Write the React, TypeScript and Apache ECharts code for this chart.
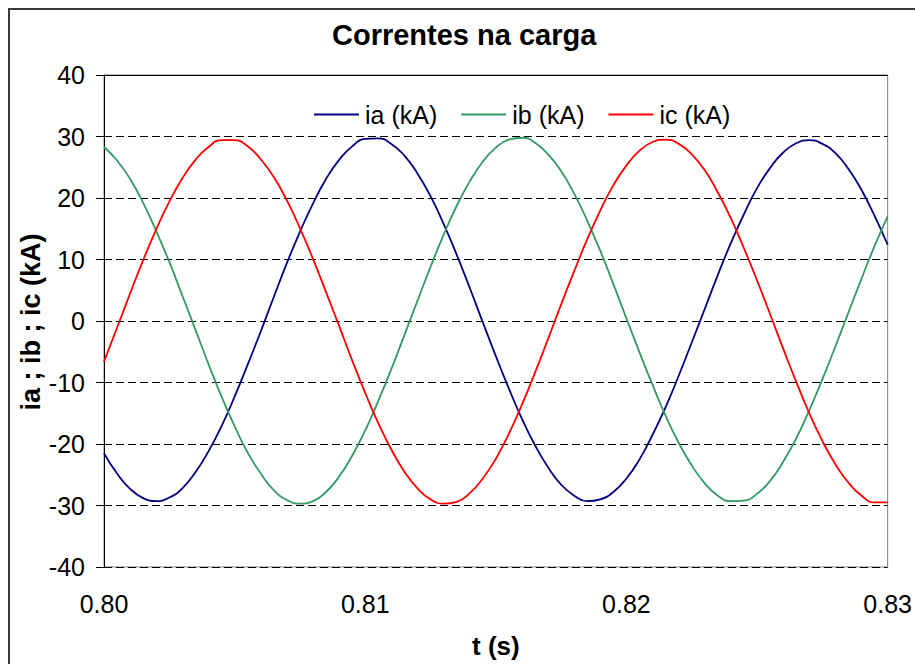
import React, { useEffect, useRef } from "react";
import * as echarts from "echarts";

const titleText = "Correntes na carga";
const xName = "t (s)";
const yName = "ia ; ib ; ic (kA)";
const seriesNames = ["ia (kA)", "ib (kA)", "ic (kA)"];
const seriesColors = ["#000080", "#339966", "#FF0000"];

// sample times (s), every 0.5 ms
const times = [
  0.8, 0.8005, 0.801, 0.8015, 0.802, 0.8025, 0.803, 0.8035, 0.804, 0.8045,
  0.805, 0.8055, 0.806, 0.8065, 0.807, 0.8075, 0.808, 0.8085, 0.809, 0.8095,
  0.81, 0.8105, 0.811, 0.8115, 0.812, 0.8125, 0.813, 0.8135, 0.814, 0.8145,
  0.815, 0.8155, 0.816, 0.8165, 0.817, 0.8175, 0.818, 0.8185, 0.819, 0.8195,
  0.82, 0.8205, 0.821, 0.8215, 0.822, 0.8225, 0.823, 0.8235, 0.824, 0.8245,
  0.825, 0.8255, 0.826, 0.8265, 0.827, 0.8275, 0.828, 0.8285, 0.829, 0.8295,
  0.83,
];

// ia (kA)
const iaValues = [
  -21.5, -24.8, -27.3, -28.8, -29.3, -28.7, -27.2, -24.6, -21.2, -17.1,
  -12.3, -7.1, -1.7, 3.9, 9.4, 14.5, 19.1, 23.1, 26.2, 28.4,
  29.6, 29.7, 28.8, 26.9, 24.0, 20.3, 15.8, 10.8, 5.4, -0.2,
  -5.7, -11.0, -15.9, -20.2, -23.8, -26.6, -28.4, -29.3, -29.0, -27.8,
  -25.6, -22.5, -18.5, -14.0, -8.9, -3.5, 2.0, 7.5, 12.7, 17.4,
  21.6, 24.9, 27.4, 28.9, 29.4, 28.8, 27.3, 24.7, 21.3, 17.1,
  12.4,
];

// ib (kA)
const ibValues = [
  28.3, 26.1, 23.1, 19.2, 14.6, 9.6, 4.1, -1.4, -7.0, -12.3,
  -17.1, -21.4, -24.8, -27.5, -29.1, -29.7, -29.3, -27.8, -25.3, -21.9,
  -17.8, -13.0, -7.8, -2.3, 3.3, 8.8, 14.0, 18.7, 22.7, 25.9,
  28.2, 29.5, 29.8, 29.0, 27.1, 24.4, 20.7, 16.3, 11.4, 6.0,
  0.4, -5.1, -10.4, -15.4, -19.8, -23.5, -26.4, -28.4, -29.3, -29.2,
  -28.1, -26.0, -22.9, -19.1, -14.5, -9.5, -4.1, 1.4, 6.9, 12.2,
  17.0,
];

// ic (kA)
const icValues = [
  -6.6, -1.1, 4.5, 9.9, 14.9, 19.4, 23.2, 26.2, 28.3, 29.4,
  29.4, 28.4, 26.3, 23.4, 19.6, 15.1, 10.1, 4.7, -0.8, -6.4,
  -11.7, -16.6, -20.9, -24.5, -27.2, -29.0, -29.7, -29.4, -28.0, -25.6,
  -22.4, -18.3, -13.6, -8.4, -2.9, 2.7, 8.1, 13.3, 18.0, 22.1,
  25.3, 27.7, 29.1, 29.5, 28.8, 27.1, 24.5, 20.9, 16.7, 11.8,
  6.6, 1.1, -4.5, -9.9, -15.0, -19.5, -23.3, -26.3, -28.4, -29.5,
  -29.5,
];

const xMin = 0.8;
const xMax = 0.83;
const xStep = 0.01;
const yMin = -40;
const yMax = 40;
const yStep = 10;

const pairs = (t: number[], v: number[]) => t.map((x, i) => [x, v[i]]);

export default function App() {
  const ref = useRef<HTMLDivElement>(null);
  useEffect(() => {
    if (!ref.current) return;
    const chart = echarts.init(ref.current, undefined, { renderer: "svg" });
    const font = "Arial, 'Liberation Sans', sans-serif";
    const seriesData = [pairs(times, iaValues), pairs(times, ibValues), pairs(times, icValues)];
    chart.setOption({
      animation: false,
      backgroundColor: "#ffffff",
      textStyle: { fontFamily: font },
      title: {
        text: titleText,
        left: 332,
        top: 20,
        padding: 0,
        textStyle: { fontFamily: font, fontSize: 29, fontWeight: "bold", color: "#000" },
      },
      graphic: [
        {
          type: "rect",
          shape: { x: 9, y: 9, width: 1000, height: 1000 },
          style: { fill: "none", stroke: "#3a3a3a", lineWidth: 2 },
          silent: true,
          z: 100,
        },
        {
          type: "text",
          x: 31,
          y: 322,
          rotation: Math.PI / 2,
          silent: true,
          style: {
            text: yName,
            fontFamily: font,
            fontSize: 27,
            fontWeight: "bold",
            fill: "#000",
            align: "center",
            verticalAlign: "middle",
            textAlign: "center",
            textVerticalAlign: "middle",
          },
        },
      ],
      legend: {
        left: 314,
        top: 102,
        padding: 0,
        icon: "rect",
        itemWidth: 45,
        itemHeight: 2,
        itemGap: 24,
        data: seriesNames,
        textStyle: { fontFamily: font, fontSize: 25, color: "#000", padding: [0, 0, 0, 1] },
      },
      grid: {
        left: 104,
        top: 75,
        right: 27,
        bottom: 95,
        show: true,
        borderColor: "#808080",
        borderWidth: 1,
        backgroundColor: "transparent",
      },
      xAxis: [
        {
          type: "value",
          min: xMin,
          max: xMax,
          interval: xStep,
          name: xName,
          nameLocation: "middle",
          nameGap: 66,
          nameTextStyle: { fontFamily: font, fontSize: 26, fontWeight: "bold", color: "#000" },
          axisLine: { show: false },
          axisTick: { show: false },
          splitLine: { show: false },
          axisLabel: {
            fontFamily: font,
            fontSize: 25,
            color: "#000",
            margin: 24,
            formatter: (v: number) => v.toFixed(2),
          },
        },
        {
          type: "value",
          position: "top",
          min: xMin,
          max: xMax,
          interval: xStep,
          axisLine: { show: true, lineStyle: { color: "#000", width: 1 } },
          axisTick: { show: false },
          axisLabel: { show: false },
          splitLine: { show: false },
        },
      ],
      yAxis: {
        type: "value",
        min: yMin,
        max: yMax,
        interval: yStep,
        axisLine: { show: true, lineStyle: { color: "#000", width: 1 } },
        axisTick: { show: true, inside: false, length: 8, lineStyle: { color: "#000" } },
        axisLabel: { fontFamily: font, fontSize: 25, color: "#000", margin: 19 },
        splitLine: { show: true, lineStyle: { color: "#000", width: 1, type: [8, 4] } },
      },
      series: seriesNames.map((name, i) => ({
        name,
        type: "line",
        xAxisIndex: 0,
        data: seriesData[i],
        smooth: 0.5,
        symbol: "none",
        lineStyle: { color: seriesColors[i], width: 1.8 },
        itemStyle: { color: seriesColors[i] },
      })),
    });
    return () => chart.dispose();
  }, []);
  return (
    <div
      ref={ref}
      style={{ position: "fixed", left: 0, top: 0, width: 915, height: 664, background: "#fff" }}
    />
  );
}
